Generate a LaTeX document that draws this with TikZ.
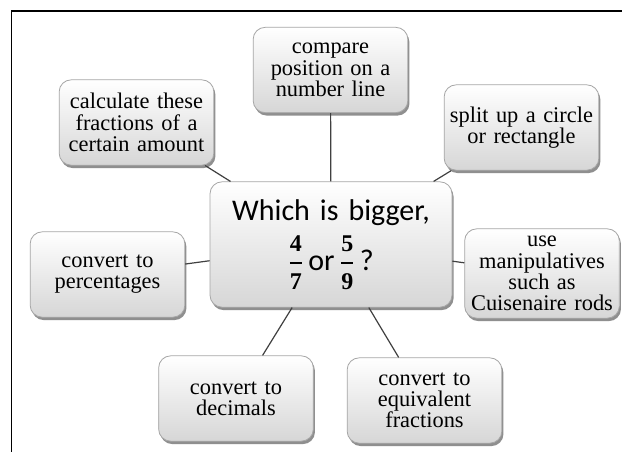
\documentclass[tikz,border=0pt]{standalone}
\usepackage{fontspec}
\usepackage{amsmath}
\setmainfont{Liberation Serif}
\newfontfamily\calib{Carlito}
\newcommand\bigfrac[2]{\ensuremath{\genfrac{}{}{1.4pt}{0}{\hbox{\rmfamily\bfseries\fontsize{18}{18}\selectfont #1}}{\hbox{\rmfamily\bfseries\fontsize{18}{18}\selectfont #2}}}}
\usetikzlibrary{shadows}
\begin{document}
\begin{tikzpicture}[x=0.75pt,y=-0.75pt,
  bubble/.style={draw=black!35, line width=0.6pt, rounded corners=9pt,
    top color=white, middle color=white, bottom color=black!16,
    drop shadow={shadow xshift=1.2pt, shadow yshift=-2.2pt, opacity=.55, fill=black!80},
    align=center, inner sep=0pt, text width=116pt,
    minimum width=116pt, minimum height=64pt,
    font=\fontsize{16.8}{15.9}\selectfont},
  hub/.style={bubble, minimum width=181.5pt, minimum height=94pt, text width=175pt,
    font=\calib\fontsize{22.5}{37.5}\selectfont},
  conn/.style={draw=black!75, line width=0.9pt}]
\useasboundingbox (0,0) rectangle (622,452);
\fill[white] (0,0) rectangle (622,452);
\draw[line width=1.1pt] (11.5,452) -- (11.5,11) -- (622,11);

\node[hub] (c) at (331,244.5) {Which is bigger,\\
  \bigfrac{4}{7}\,or\,\bigfrac{5}{9}\,?};
\node[bubble] (cmp) at (330.5,70) {compare\\position on a\\number line};
\node[bubble] (calc) at (136.5,122.5) {calculate these\\fractions of a\\certain amount};
\node[bubble] (split) at (521.5,127.5) {split up a circle\\or rectangle};
\node[bubble] (pct) at (107.5,274.5) {convert to\\percentages};
\node[bubble, minimum width=114pt, minimum height=67pt] (man) at (542,273.5) {use\\manipulatives\\such as\\Cuisenaire rods};
\node[bubble] (dec) at (236,398.5) {convert to\\decimals};
\node[bubble] (eqv) at (424.5,400.5) {convert to\\equivalent\\fractions};

\draw[conn] (cmp) -- (c);
\draw[conn] (calc) -- (c);
\draw[conn] (split) -- (c);
\draw[conn] (pct) -- (c);
\draw[conn] (man) -- (c);
\draw[conn] (dec) -- (c);
\draw[conn] (eqv) -- (c);
\end{tikzpicture}
\end{document}
